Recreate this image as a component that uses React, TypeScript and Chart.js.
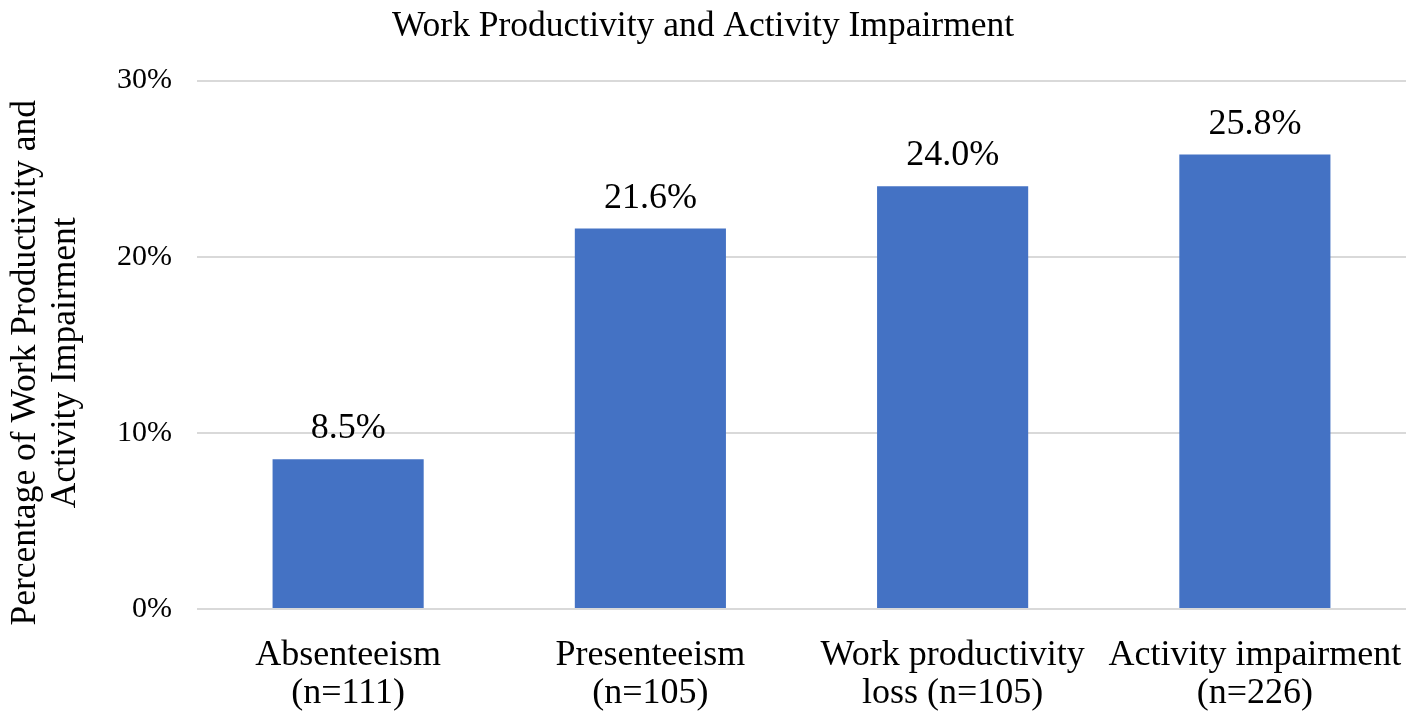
import { useRef, useEffect } from 'react';
import { Chart, registerables, Plugin } from 'chart.js';

Chart.register(...registerables);

const categories: string[][] = [
  ['Absenteeism', '(n=111)'],
  ['Presenteeism', '(n=105)'],
  ['Work productivity', 'loss (n=105)'],
  ['Activity impairment', '(n=226)'],
];
const percentValues: number[] = [8.5, 21.6, 24.0, 25.8];
const yTicks: number[] = [0, 10, 20, 30];
const yTitleLines: string[] = ['Percentage of Work Productivity and', 'Activity Impairment'];

const FONT = '"Liberation Serif", "Times New Roman", serif';

// draws the value above each bar
const barLabels: Plugin<'bar'> = {
  id: 'barLabels',
  afterDatasetsDraw(chart) {
    const ctx = chart.ctx;
    const meta = chart.getDatasetMeta(0);
    ctx.save();
    ctx.font = `36px ${FONT}`;
    ctx.fillStyle = '#000000';
    ctx.textAlign = 'center';
    ctx.textBaseline = 'alphabetic';
    meta.data.forEach((bar, i) => {
      ctx.fillText(percentValues[i].toFixed(1) + '%', bar.x, bar.y - 21);
    });
    ctx.restore();
  },
};

// rotated two-line y axis title, placed a bit below the axis centre like the original
const yAxisTitle: Plugin<'bar'> = {
  id: 'yAxisTitle',
  afterDraw(chart) {
    const ctx = chart.ctx;
    const { top, bottom } = chart.chartArea;
    const cy = (top + bottom) / 2 + 18;
    ctx.save();
    ctx.font = `35.5px ${FONT}`;
    ctx.fillStyle = '#000000';
    ctx.textAlign = 'center';
    ctx.textBaseline = 'alphabetic';
    yTitleLines.forEach((line, i) => {
      ctx.save();
      ctx.translate(35 + i * 40, cy);
      ctx.rotate(-Math.PI / 2);
      ctx.fillText(line, 0, 0);
      ctx.restore();
    });
    ctx.restore();
  },
};

const App = () => {
  const canvasRef = useRef<HTMLCanvasElement | null>(null);
  const chartRef = useRef<Chart | null>(null);

  useEffect(() => {
    if (!canvasRef.current) return;
    if (chartRef.current) chartRef.current.destroy();

    chartRef.current = new Chart(canvasRef.current, {
      type: 'bar',
      data: {
        labels: categories,
        datasets: [
          {
            data: percentValues,
            backgroundColor: '#4472C4',
            categoryPercentage: 1,
            barPercentage: 0.5,
          },
        ],
      },
      options: {
        animation: false,
        responsive: false,
        maintainAspectRatio: false,
        layout: { padding: { top: 0, right: 11, bottom: 0, left: 0 } },
        plugins: {
          legend: { display: false },
          tooltip: { enabled: false },
          title: {
            display: true,
            text: 'Work Productivity and Activity Impairment',
            color: '#000000',
            font: { family: FONT, size: 35.5, weight: 'normal', lineHeight: 1.2 },
            padding: { top: 5, bottom: 33 },
          },
        },
        scales: {
          x: {
            afterFit: (axis) => {
              axis.height = 114;
              axis.paddingLeft = 0;
              axis.paddingRight = 0;
            },
            grid: { display: false },
            border: { display: false },
            ticks: {
              color: '#000000',
              font: { family: FONT, size: 36, lineHeight: 1.06 },
              maxRotation: 0,
              autoSkip: false,
              padding: 19,
            },
          },
          y: {
            min: yTicks[0],
            max: yTicks[yTicks.length - 1],
            afterBuildTicks: (axis) => {
              axis.ticks = yTicks.map((v) => ({ value: v }));
            },
            afterFit: (axis) => {
              axis.width = 197;
            },
            grid: { color: '#d9d9d9', lineWidth: 2, drawTicks: false },
            border: { display: false },
            ticks: {
              color: '#000000',
              font: { family: FONT, size: 30 },
              padding: 25,
              callback: (v) => v + '%',
            },
          },
        },
      },
      plugins: [barLabels, yAxisTitle],
    });

    return () => {
      if (chartRef.current) {
        chartRef.current.destroy();
        chartRef.current = null;
      }
    };
  }, []);

  return (
    <div style={{ position: 'absolute', left: 0, top: 0, width: 1417, height: 723, background: '#fff' }}>
      <canvas ref={canvasRef} width={1417} height={723} />
    </div>
  );
};

export default App;
